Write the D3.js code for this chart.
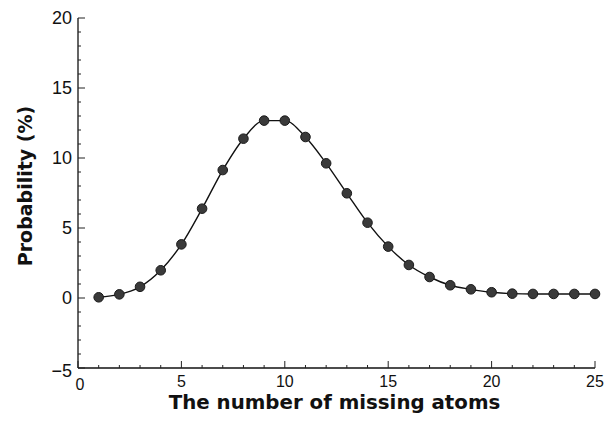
<!DOCTYPE html>
<html>
<head>
<meta charset="utf-8">
<script src="https://cdn.jsdelivr.net/npm/d3@7"></script>
<style>
  body { margin: 0; background: #fff; }
  svg text { font-family: "Liberation Sans", Arial, sans-serif; fill: #111; }
  .tick-label { font-size: 16px; }
  .tick-label.y { font-size: 18px; }
  .axis-title { font-family: "DejaVu Sans", sans-serif; font-size: 19px; font-weight: bold; }
  .axis-title.x { font-size: 19.8px; }
</style>
</head>
<body>
<div id="chart"></div>
<script>
// missing atoms (x) vs probability in % (y)
const atoms = [1, 2, 3, 4, 5, 6, 7, 8, 9, 10, 11, 12, 13, 14, 15, 16, 17, 18, 19, 20, 21, 22, 23, 24, 25];
const probability = [0.05, 0.26, 0.8, 1.98, 3.83, 6.38, 9.14, 11.38, 12.67, 12.67, 11.5, 9.62, 7.48,
  5.38, 3.67, 2.36, 1.5, 0.91, 0.62, 0.41, 0.31, 0.29, 0.29, 0.29, 0.29];
const xTicks = [0, 5, 10, 15, 20, 25];
const yTicks = [-5, 0, 5, 10, 15, 20];

const width = 608, height = 424;
const margin = { top: 18, right: 13, bottom: 56, left: 78 };

const svg = d3.select('#chart').append('svg')
  .attr('width', width)
  .attr('height', height);

const x = d3.scaleLinear().domain([0, 25]).range([margin.left, width - margin.right]);
const y = d3.scaleLinear().domain([-5, 20]).range([height - margin.bottom, margin.top]);

const data = atoms.map((a, i) => ({ a, p: probability[i] }));

// axis lines
svg.append('line')
  .attr('x1', x(0)).attr('x2', x(0))
  .attr('y1', y(-5)).attr('y2', y(20))
  .attr('stroke', '#111').attr('stroke-width', 1.3);
svg.append('line')
  .attr('x1', x(0)).attr('x2', x(25))
  .attr('y1', y(-5)).attr('y2', y(-5))
  .attr('stroke', '#111').attr('stroke-width', 1.3);

// inward ticks, minor every unit
svg.append('g').selectAll('line')
  .data(d3.range(-5, 21))
  .join('line')
    .attr('x1', x(0))
    .attr('x2', (d) => x(0) + (d % 5 === 0 ? 7 : 3))
    .attr('y1', (d) => y(d)).attr('y2', (d) => y(d))
    .attr('stroke', '#222').attr('stroke-width', 1);

svg.append('g').selectAll('line')
  .data(d3.range(0, 26))
  .join('line')
    .attr('x1', (d) => x(d)).attr('x2', (d) => x(d))
    .attr('y1', y(-5))
    .attr('y2', (d) => y(-5) - (d % 5 === 0 ? 7 : 3))
    .attr('stroke', '#222').attr('stroke-width', 1);

// tick labels
svg.append('g').selectAll('text')
  .data(yTicks)
  .join('text')
    .attr('class', 'tick-label y')
    .attr('x', x(0) - 6)
    .attr('y', (d) => y(d) + (d < 0 ? 3 : 0))
    .attr('dy', '0.35em')
    .attr('text-anchor', 'end')
    .text((d) => d < 0 ? '\u2212' + Math.abs(d) : d);

svg.append('g').selectAll('text')
  .data(xTicks)
  .join('text')
    .attr('class', 'tick-label')
    .attr('x', (d) => x(d) + (d === 0 ? 2 : 0))
    .attr('y', (d) => y(-5) + (d === 0 ? 22 : 19))
    .attr('text-anchor', 'middle')
    .text((d) => d);

// axis titles
svg.append('text')
  .attr('class', 'axis-title x')
  .attr('x', (x(0) + x(25)) / 2 - 2)
  .attr('y', 409)
  .attr('text-anchor', 'middle')
  .text('The number of missing atoms');

svg.append('text')
  .attr('class', 'axis-title')
  .attr('transform', `translate(32, ${y(8)}) rotate(-90)`)
  .attr('text-anchor', 'middle')
  .text('Probability (%)');

// the curve
const line = d3.line()
  .x((d) => x(d.a))
  .y((d) => y(d.p))
  .curve(d3.curveMonotoneX);

svg.append('path')
  .datum(data)
  .attr('d', line)
  .attr('fill', 'none')
  .attr('stroke', '#111')
  .attr('stroke-width', 1.4);

svg.append('g').selectAll('circle')
  .data(data)
  .join('circle')
    .attr('cx', (d) => x(d.a))
    .attr('cy', (d) => y(d.p))
    .attr('r', 4.8)
    .attr('fill', '#3a3a3a')
    .attr('stroke', '#1a1a1a')
    .attr('stroke-width', 1);
</script>
</body>
</html>
